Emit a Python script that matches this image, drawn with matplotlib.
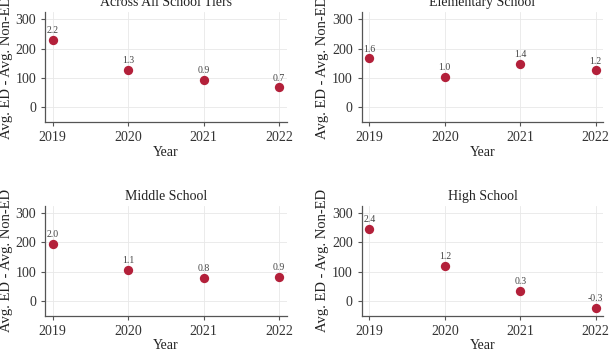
import matplotlib.pyplot as plt

years = [2019, 2020, 2021, 2022]

titles = ["Across All School Tiers", "Elementary School", "Middle School", "High School"]

# gap in points (Avg. ED - Avg. Non-ED)
all_tiers = [228, 126, 92, 67]
elementary = [166, 103, 147, 125]
middle = [194, 105, 78, 82]
high = [245, 120, 34, -25]

# labels printed above each point
all_labels = ["2.2", "1.3", "0.9", "0.7"]
elem_labels = ["1.6", "1.0", "1.4", "1.2"]
mid_labels = ["2.0", "1.1", "0.8", "0.9"]
high_labels = ["2.4", "1.2", "0.3", "-0.3"]

series = [all_tiers, elementary, middle, high]
labels = [all_labels, elem_labels, mid_labels, high_labels]

plt.rcParams['font.family'] = ['Liberation Serif', 'DejaVu Serif']

fig = plt.figure(figsize=(6.1, 3.53), dpi=100)

# axes boxes in figure fractions [left, bottom, width, height]
boxes = [
    [0.074, 0.654, 0.396, 0.312],
    [0.593, 0.654, 0.396, 0.312],
    [0.074, 0.105, 0.396, 0.312],
    [0.593, 0.105, 0.396, 0.312],
]

red = "#B3203A"
spine_col = "#555555"

for box, title, vals, labs in zip(boxes, titles, series, labels):
    ax = fig.add_axes(box)
    ax.scatter(years, vals, s=45, color=red, zorder=3, linewidths=0)
    for x, y, lab in zip(years, vals, labs):
        ax.annotate(lab, (x, y), xytext=(0, 3.5), textcoords="offset points",
                    ha="center", va="bottom", fontsize=7, color="#444444")
    ax.set_xlim(2018.9, 2022.1)
    ax.set_ylim(-52, 325)
    ax.set_xticks(years)
    ax.set_yticks([0, 100, 200, 300])
    ax.tick_params(labelsize=10, colors="#333333", length=3, width=0.8)
    ax.tick_params(axis="both", color=spine_col)
    ax.grid(True, color="#e8e8e8", linewidth=0.6)
    ax.set_axisbelow(True)
    for side in ["top", "right"]:
        ax.spines[side].set_visible(False)
    for side in ["left", "bottom"]:
        ax.spines[side].set_color(spine_col)
        ax.spines[side].set_linewidth(0.9)
    ax.set_title(title, fontsize=10, color="#222222", pad=4)
    ax.set_xlabel("Year", fontsize=10, color="#222222", labelpad=1)
    ax.set_ylabel("Avg. ED - Avg. Non-ED", fontsize=10.5, color="#222222", labelpad=2)

fig.savefig("out.png", dpi=100)
